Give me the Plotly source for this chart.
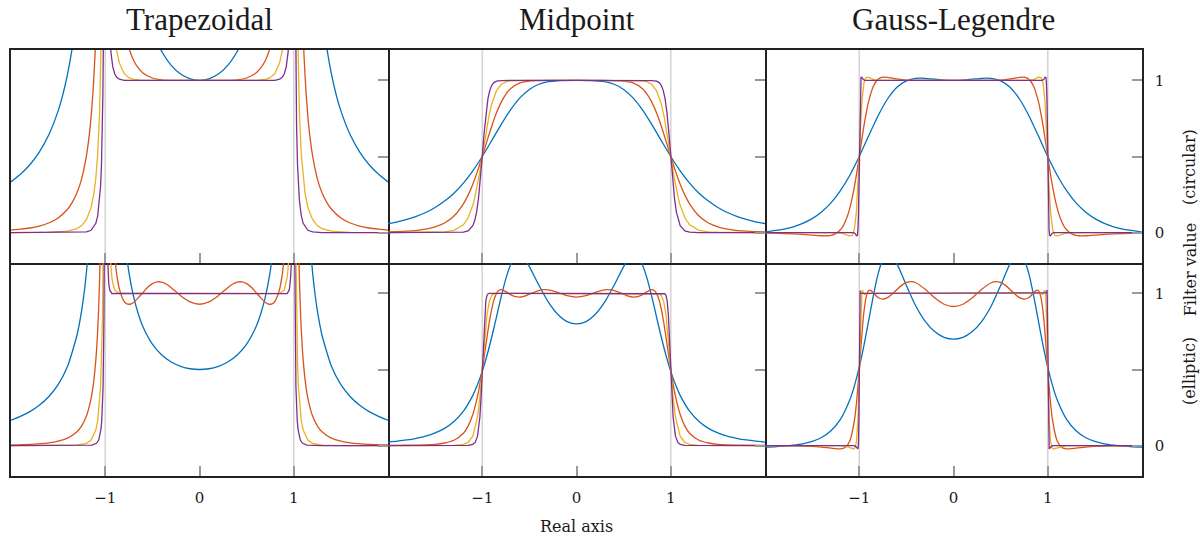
import plotly.graph_objects as go

# ---------------- styling constants ----------------
COLORS = ["#0072BD", "#D95319", "#EDB120", "#7E2F8E"]
TITLES = ["Trapezoidal", "Midpoint", "Gauss-Legendre"]
X_TICKS = [-1, 0, 1]
X_TICK_TEXT = ["\u22121", "0", "1"]
Y_TICKS = [0, 0.5, 1]
Y_TICK_TEXT = ["0", "", "1"]
GRID_X = [-1, 1]
X_RANGE = [-2, 2]
Y_RANGE = [-0.2, 1.2]
ROW_LABELS = ["(circular)", "Filter value", "(elliptic)"]
X_LABEL = "Real axis"

# ---------------- data: circular contour ----------------
# Trapezoidal (circular)
A_BLUE_X = [-2.0, -1.9, -1.8, -1.7, -1.6, -1.5, -1.45, -1.4, -1.35, -1.3, None, -0.5, -0.45, -0.4, -0.3, -0.2, -0.1, 0.0, 0.1, 0.2, 0.3, 0.4, 0.45, 0.5, None, 1.3, 1.35, 1.4, 1.45, 1.5, 1.6, 1.7, 1.8, 1.9, 2.0]
A_BLUE_Y = [0.333, 0.383, 0.446, 0.529, 0.641, 0.800, 0.907, 1.042, 1.216, 1.449, None, 1.333, 1.254, 1.190, 1.099, 1.042, 1.010, 1.000, 1.010, 1.042, 1.099, 1.190, 1.254, 1.333, None, 1.449, 1.216, 1.042, 0.907, 0.800, 0.641, 0.529, 0.446, 0.383, 0.333]
A_RED_X = [-2.0, -1.9, -1.8, -1.7, -1.6, -1.5, -1.4, -1.35, -1.3, -1.25, -1.2, -1.17, -1.15, -1.13, -1.11, -1.1, -1.09, None, -0.8, -0.75, -0.7, -0.65, -0.6, -0.5, -0.4, -0.3, 0.0, 0.3, 0.4, 0.5, 0.6, 0.65, 0.7, 0.75, 0.8, None, 1.09, 1.1, 1.11, 1.13, 1.15, 1.17, 1.2, 1.25, 1.3, 1.35, 1.4, 1.5, 1.6, 1.7, 1.8, 1.9, 2.0]
A_RED_Y = [0.016, 0.022, 0.030, 0.043, 0.063, 0.096, 0.153, 0.198, 0.261, 0.355, 0.504, 0.639, 0.762, 0.924, 1.149, 1.297, 1.477, None, 1.355, 1.216, 1.133, 1.082, 1.049, 1.016, 1.004, 1.001, 1.000, 1.001, 1.004, 1.016, 1.049, 1.082, 1.133, 1.216, 1.355, None, 1.477, 1.297, 1.149, 0.924, 0.762, 0.639, 0.504, 0.355, 0.261, 0.198, 0.153, 0.096, 0.063, 0.043, 0.030, 0.022, 0.016]
A_YELLOW_X = [-2.0, -1.6, -1.4, -1.3, -1.25, -1.2, -1.15, -1.12, -1.1, -1.08, -1.06, -1.05, -1.04, None, -0.92, -0.9, -0.88, -0.85, -0.8, -0.75, -0.7, -0.6, 0.0, 0.6, 0.7, 0.75, 0.8, 0.85, 0.88, 0.9, 0.92, None, 1.04, 1.05, 1.06, 1.08, 1.1, 1.12, 1.15, 1.2, 1.25, 1.3, 1.4, 1.6, 2.0]
A_YELLOW_Y = [0.0, 0.001, 0.009, 0.026, 0.046, 0.085, 0.165, 0.257, 0.358, 0.516, 0.793, 1.020, 1.366, None, 1.452, 1.297, 1.2, 1.115, 1.046, 1.018, 1.007, 1.001, 1.0, 1.001, 1.007, 1.018, 1.046, 1.115, 1.2, 1.297, 1.452, None, 1.366, 1.020, 0.793, 0.516, 0.358, 0.257, 0.165, 0.085, 0.046, 0.026, 0.009, 0.001, 0.0]
A_PURPLE_X = [-2.0, -1.3, -1.2, -1.15, -1.1, -1.08, -1.06, -1.05, -1.04, -1.03, -1.025, -1.02, -1.015, None, -0.96, -0.95, -0.94, -0.92, -0.9, -0.88, -0.85, -0.8, 0.0, 0.8, 0.85, 0.88, 0.9, 0.92, 0.94, 0.95, 0.96, None, 1.015, 1.02, 1.025, 1.03, 1.04, 1.05, 1.06, 1.08, 1.1, 1.15, 1.2, 1.3, 2.0]
A_PURPLE_Y = [0.0, 0.0, 0.004, 0.015, 0.061, 0.110, 0.211, 0.301, 0.446, 0.701, 0.911, 1.233, 1.776, None, 1.416, 1.273, 1.185, 1.089, 1.044, 1.022, 1.008, 1.001, 1.0, 1.001, 1.008, 1.022, 1.044, 1.089, 1.185, 1.273, 1.416, None, 1.776, 1.233, 0.911, 0.701, 0.446, 0.301, 0.211, 0.110, 0.061, 0.015, 0.004, 0.0, 0.0]

# Midpoint (circular)
B_BLUE_X = [-2.0, -1.9, -1.8, -1.7, -1.6, -1.5, -1.4, -1.3, -1.2, -1.1, -1.0, -0.9, -0.8, -0.7, -0.6, -0.5, -0.4, -0.3, -0.2, 0.0, 0.2, 0.3, 0.4, 0.5, 0.6, 0.7, 0.8, 0.9, 1.0, 1.1, 1.2, 1.3, 1.4, 1.5, 1.6, 1.7, 1.8, 1.9, 2.0]
B_BLUE_Y = [0.059, 0.071, 0.087, 0.107, 0.132, 0.165, 0.207, 0.259, 0.325, 0.406, 0.5, 0.604, 0.709, 0.806, 0.885, 0.941, 0.975, 0.992, 0.998, 1.0, 0.998, 0.992, 0.975, 0.941, 0.885, 0.806, 0.709, 0.604, 0.5, 0.406, 0.325, 0.259, 0.207, 0.165, 0.132, 0.107, 0.087, 0.071, 0.059]
B_RED_X = [-2.0, -1.8, -1.6, -1.5, -1.4, -1.3, -1.2, -1.15, -1.1, -1.05, -1.0, -0.95, -0.9, -0.85, -0.8, -0.75, -0.7, -0.6, -0.5, -0.3, 0.0, 0.3, 0.5, 0.6, 0.7, 0.75, 0.8, 0.85, 0.9, 0.95, 1.0, 1.05, 1.1, 1.15, 1.2, 1.3, 1.4, 1.5, 1.6, 1.8, 2.0]
B_RED_Y = [0.004, 0.009, 0.023, 0.038, 0.063, 0.109, 0.189, 0.246, 0.318, 0.404, 0.5, 0.601, 0.699, 0.786, 0.856, 0.909, 0.946, 0.984, 0.996, 1.0, 1.0, 1.0, 0.996, 0.984, 0.946, 0.909, 0.856, 0.786, 0.699, 0.601, 0.5, 0.404, 0.318, 0.246, 0.189, 0.109, 0.063, 0.038, 0.023, 0.009, 0.004]
B_YELLOW_X = [-2.0, -1.5, -1.4, -1.3, -1.2, -1.15, -1.1, -1.08, -1.05, -1.03, -1.0, -0.97, -0.95, -0.93, -0.9, -0.85, -0.8, -0.75, -0.7, -0.5, 0.0, 0.5, 0.7, 0.75, 0.8, 0.85, 0.9, 0.93, 0.95, 0.97, 1.0, 1.03, 1.05, 1.08, 1.1, 1.15, 1.2, 1.3, 1.4, 1.5, 2.0]
B_YELLOW_Y = [0.0, 0.002, 0.005, 0.015, 0.051, 0.097, 0.179, 0.226, 0.314, 0.384, 0.5, 0.620, 0.694, 0.762, 0.844, 0.931, 0.973, 0.990, 0.997, 1.0, 1.0, 1.0, 0.997, 0.990, 0.973, 0.931, 0.844, 0.762, 0.694, 0.620, 0.5, 0.384, 0.314, 0.226, 0.179, 0.097, 0.051, 0.015, 0.005, 0.002, 0.0]
B_PURPLE_X = [-2.0, -1.3, -1.2, -1.15, -1.1, -1.08, -1.06, -1.04, -1.02, -1.0, -0.98, -0.96, -0.94, -0.92, -0.9, -0.88, -0.85, -0.8, -0.7, 0.0, 0.7, 0.8, 0.85, 0.88, 0.9, 0.92, 0.94, 0.96, 0.98, 1.0, 1.02, 1.04, 1.06, 1.08, 1.1, 1.15, 1.2, 1.3, 2.0]
B_PURPLE_Y = [0.0, 0.0, 0.003, 0.011, 0.045, 0.079, 0.134, 0.222, 0.347, 0.5, 0.656, 0.787, 0.879, 0.935, 0.967, 0.984, 0.995, 0.999, 1.0, 1.0, 1.0, 0.999, 0.995, 0.984, 0.967, 0.935, 0.879, 0.787, 0.656, 0.5, 0.347, 0.222, 0.134, 0.079, 0.045, 0.011, 0.003, 0.0, 0.0]

# Gauss-Legendre (circular)
C_BLUE_X = [-2.0, -1.8, -1.7, -1.6, -1.5, -1.4, -1.3, -1.2, -1.1, -1.0, -0.9, -0.8, -0.7, -0.6, -0.5, -0.4, -0.35, -0.3, -0.2, -0.1, 0.0, 0.1, 0.2, 0.3, 0.35, 0.4, 0.5, 0.6, 0.7, 0.8, 0.9, 1.0, 1.1, 1.2, 1.3, 1.4, 1.5, 1.6, 1.7, 1.8, 2.0]
C_BLUE_Y = [0.003, 0.022, 0.038, 0.061, 0.092, 0.136, 0.195, 0.275, 0.377, 0.5, 0.636, 0.768, 0.878, 0.955, 0.997, 1.014, 1.015, 1.014, 1.008, 1.002, 1.0, 1.002, 1.008, 1.014, 1.015, 1.014, 0.997, 0.955, 0.878, 0.768, 0.636, 0.5, 0.377, 0.275, 0.195, 0.136, 0.092, 0.061, 0.038, 0.022, 0.003]
C_RED_X = [-2.0, -1.8, -1.6, -1.5, -1.4, -1.333, -1.3, -1.25, -1.2, -1.176, -1.15, -1.111, -1.087, -1.053, -1.031, -1.0, -0.97, -0.95, -0.92, -0.9, -0.85, -0.8, -0.75, -0.7, -0.65, -0.6, -0.55, -0.5, -0.4, 0.0, 0.4, 0.5, 0.55, 0.6, 0.65, 0.7, 0.75, 0.8, 0.85, 0.9, 0.92, 0.95, 0.97, 1.0, 1.031, 1.053, 1.087, 1.111, 1.15, 1.176, 1.2, 1.25, 1.3, 1.333, 1.4, 1.5, 1.6, 1.8, 2.0]
C_RED_Y = [-0.002, -0.006, -0.012, -0.017, -0.021, -0.021, -0.018, -0.007, 0.019, 0.038, 0.069, 0.136, 0.193, 0.297, 0.376, 0.5, 0.624, 0.703, 0.807, 0.864, 0.962, 1.007, 1.021, 1.020, 1.015, 1.010, 1.005, 1.002, 1.0, 1.0, 1.0, 1.002, 1.005, 1.010, 1.015, 1.020, 1.021, 1.007, 0.962, 0.864, 0.807, 0.703, 0.624, 0.5, 0.376, 0.297, 0.193, 0.136, 0.069, 0.038, 0.019, -0.007, -0.018, -0.021, -0.021, -0.017, -0.012, -0.006, -0.002]
C_YELLOW_X = [-2.0, -1.25, -1.176, -1.111, -1.075, -1.053, -1.031, -1.015, -1.0, -0.985, -0.97, -0.95, -0.93, -0.9, -0.85, -0.8, -0.7, 0.0, 0.7, 0.8, 0.85, 0.9, 0.93, 0.95, 0.97, 0.985, 1.0, 1.015, 1.031, 1.053, 1.075, 1.111, 1.176, 1.25, 2.0]
C_YELLOW_Y = [0.0, 0.0, -0.006, -0.021, -0.019, 0.017, 0.129, 0.289, 0.5, 0.711, 0.871, 0.983, 1.019, 1.021, 1.006, 1.0, 1.0, 1.0, 1.0, 1.0, 1.006, 1.021, 1.019, 0.983, 0.871, 0.711, 0.5, 0.289, 0.129, 0.017, -0.019, -0.021, -0.006, 0.0, 0.0]
C_PURPLE_X = [-2.0, -1.062, -1.045, -1.029, -1.02, -1.014, -1.008, -1.004, -1.0, -0.996, -0.992, -0.986, -0.981, -0.972, -0.957, -0.94, 0.0, 0.94, 0.957, 0.972, 0.981, 0.986, 0.992, 0.996, 1.0, 1.004, 1.008, 1.014, 1.02, 1.029, 1.045, 1.062, 2.0]
C_PURPLE_Y = [0.0, 0.0, -0.006, -0.021, -0.019, 0.017, 0.129, 0.289, 0.5, 0.711, 0.871, 0.983, 1.019, 1.021, 1.006, 1.0, 1.0, 1.0, 1.006, 1.021, 1.019, 0.983, 0.871, 0.711, 0.5, 0.289, 0.129, 0.017, -0.019, -0.021, -0.006, 0.0, 0.0]

# ---------------- data: elliptic contour ----------------
# Trapezoidal (elliptic)
D_BLUE_X = [-2.0, -1.9, -1.8, -1.7, -1.6, -1.5, -1.4, -1.3, -1.25, -1.22, -1.2, -1.17, -1.15, None, -0.8, -0.75, -0.7, -0.65, -0.6, -0.5, -0.4, -0.3, -0.2, -0.1, 0.0, 0.1, 0.2, 0.3, 0.4, 0.5, 0.6, 0.65, 0.7, 0.75, 0.8, None, 1.15, 1.17, 1.2, 1.22, 1.25, 1.3, 1.4, 1.5, 1.6, 1.7, 1.8, 1.9, 2.0]
D_BLUE_Y = [0.167, 0.192, 0.223, 0.265, 0.321, 0.400, 0.521, 0.725, 0.889, 1.024, 1.136, 1.355, 1.550, None, 1.389, 1.143, 0.980, 0.866, 0.781, 0.667, 0.595, 0.549, 0.521, 0.505, 0.5, 0.505, 0.521, 0.549, 0.595, 0.667, 0.781, 0.866, 0.980, 1.143, 1.389, None, 1.550, 1.355, 1.136, 1.024, 0.889, 0.725, 0.521, 0.400, 0.321, 0.265, 0.223, 0.192, 0.167]
D_RED_X = [-2.0, -1.8, -1.6, -1.5, -1.4, -1.3, -1.25, -1.2, -1.15, -1.125, -1.1, -1.08, -1.07, -1.06, -1.05, None, -0.92, -0.9, -0.88, -0.85, -0.8, -0.775, -0.75, -0.725, -0.7, -0.65, -0.6, -0.55, -0.5, -0.45, -0.4, -0.35, -0.3, -0.2, -0.1, 0.0, 0.1, 0.2, 0.3, 0.35, 0.4, 0.45, 0.5, 0.55, 0.6, 0.65, 0.7, 0.725, 0.75, 0.775, 0.8, 0.85, 0.88, 0.9, 0.92, None, 1.05, 1.06, 1.07, 1.08, 1.1, 1.125, 1.15, 1.2, 1.25, 1.3, 1.4, 1.5, 1.6, 1.8, 2.0]
D_RED_Y = [0.004, 0.008, 0.018, 0.029, 0.049, 0.091, 0.130, 0.194, 0.311, 0.409, 0.563, 0.760, 0.903, 1.095, 1.366, None, 1.443, 1.254, 1.135, 1.028, 0.948, 0.933, 0.929, 0.932, 0.941, 0.971, 1.006, 1.040, 1.064, 1.076, 1.074, 1.060, 1.038, 0.985, 0.944, 0.929, 0.944, 0.985, 1.038, 1.060, 1.074, 1.076, 1.064, 1.040, 1.006, 0.971, 0.941, 0.932, 0.929, 0.933, 0.948, 1.028, 1.135, 1.254, 1.443, None, 1.366, 1.095, 0.903, 0.760, 0.563, 0.409, 0.311, 0.194, 0.130, 0.091, 0.049, 0.029, 0.018, 0.008, 0.004]
D_YELLOW_X = [-2.0, -1.5, -1.3, -1.2, -1.15, -1.1, -1.08, -1.05, -1.04, -1.03, -1.02, None, -0.95, -0.94, -0.93, -0.92, -0.9, -0.85, -0.8, -0.5, 0.0, 0.5, 0.8, 0.85, 0.9, 0.92, 0.93, 0.94, 0.95, None, 1.02, 1.03, 1.04, 1.05, 1.08, 1.1, 1.15, 1.2, 1.3, 1.5, 2.0]
D_YELLOW_Y = [0.0, 0.0, 0.003, 0.015, 0.036, 0.102, 0.164, 0.385, 0.545, 0.824, 1.400, None, 1.262, 1.167, 1.106, 1.067, 1.023, 0.999, 1.001, 1.001, 0.999, 1.001, 1.001, 0.999, 1.023, 1.067, 1.106, 1.167, 1.262, None, 1.400, 0.824, 0.545, 0.385, 0.164, 0.102, 0.036, 0.015, 0.003, 0.0, 0.0]
D_PURPLE_X = [-2.0, -1.3, -1.14, -1.093, -1.07, -1.047, -1.037, -1.023, -1.019, -1.014, -1.009, None, -0.977, -0.972, -0.967, -0.963, -0.953, -0.93, -0.9, 0.0, 0.9, 0.93, 0.953, 0.963, 0.967, 0.972, 0.977, None, 1.009, 1.014, 1.019, 1.023, 1.037, 1.047, 1.07, 1.093, 1.14, 1.3, 2.0]
D_PURPLE_Y = [0.0, 0.0, 0.003, 0.015, 0.036, 0.102, 0.164, 0.385, 0.545, 0.824, 1.400, None, 1.262, 1.167, 1.106, 1.067, 1.023, 0.999, 1.0, 1.0, 1.0, 0.999, 1.023, 1.067, 1.106, 1.167, 1.262, None, 1.400, 0.824, 0.545, 0.385, 0.164, 0.102, 0.036, 0.015, 0.003, 0.0, 0.0]

# Midpoint (elliptic)
E_BLUE_X = [-2.0, -1.9, -1.8, -1.7, -1.6, -1.5, -1.4, -1.3, -1.2, -1.1, -1.05, -1.0, -0.95, -0.9, -0.85, -0.8, -0.75, -0.7, -0.65, -0.6, -0.55, -0.5, -0.4, -0.3, -0.2, -0.1, 0.0, 0.1, 0.2, 0.3, 0.4, 0.5, 0.55, 0.6, 0.65, 0.7, 0.75, 0.8, 0.85, 0.9, 0.95, 1.0, 1.05, 1.1, 1.2, 1.3, 1.4, 1.5, 1.6, 1.7, 1.8, 1.9, 2.0]
E_BLUE_Y = [0.023, 0.029, 0.037, 0.048, 0.062, 0.083, 0.113, 0.158, 0.226, 0.330, 0.401, 0.488, 0.592, 0.712, 0.843, 0.976, 1.096, 1.187, 1.239, 1.249, 1.224, 1.176, 1.055, 0.944, 0.863, 0.815, 0.8, 0.815, 0.863, 0.944, 1.055, 1.176, 1.224, 1.249, 1.239, 1.187, 1.096, 0.976, 0.843, 0.712, 0.592, 0.488, 0.401, 0.330, 0.226, 0.158, 0.113, 0.083, 0.062, 0.048, 0.037, 0.029, 0.023]
E_RED_X = [-2.0, -1.8, -1.6, -1.5, -1.4, -1.3, -1.2, -1.15, -1.1, -1.05, -1.025, -1.0, -0.975, -0.95, -0.925, -0.9, -0.875, -0.85, -0.825, -0.8, -0.75, -0.7, -0.65, -0.6, -0.55, -0.5, -0.4, -0.35, -0.3, -0.2, -0.1, 0.0, 0.1, 0.2, 0.3, 0.35, 0.4, 0.5, 0.55, 0.6, 0.65, 0.7, 0.75, 0.8, 0.825, 0.85, 0.875, 0.9, 0.925, 0.95, 0.975, 1.0, 1.025, 1.05, 1.1, 1.15, 1.2, 1.3, 1.4, 1.5, 1.6, 1.8, 2.0]
E_RED_Y = [0.001, 0.002, 0.005, 0.008, 0.017, 0.035, 0.081, 0.128, 0.204, 0.325, 0.406, 0.5, 0.604, 0.710, 0.811, 0.895, 0.959, 0.999, 1.019, 1.025, 1.012, 0.992, 0.979, 0.976, 0.982, 0.995, 1.019, 1.025, 1.024, 1.007, 0.985, 0.976, 0.985, 1.007, 1.024, 1.025, 1.019, 0.995, 0.982, 0.976, 0.979, 0.992, 1.012, 1.025, 1.019, 0.999, 0.959, 0.895, 0.811, 0.710, 0.604, 0.5, 0.406, 0.325, 0.204, 0.128, 0.081, 0.035, 0.017, 0.008, 0.005, 0.002, 0.001]
E_YELLOW_X = [-2.0, -1.3, -1.2, -1.15, -1.1, -1.05, -1.025, -1.0, -0.975, -0.95, -0.925, -0.9, -0.875, -0.85, -0.5, 0.0, 0.5, 0.85, 0.875, 0.9, 0.925, 0.95, 0.975, 1.0, 1.025, 1.05, 1.1, 1.15, 1.2, 1.3, 2.0]
E_YELLOW_Y = [0.0, 0.001, 0.008, 0.021, 0.062, 0.188, 0.318, 0.5, 0.699, 0.858, 0.948, 0.987, 0.998, 1.0, 1.0, 1.0, 1.0, 1.0, 0.998, 0.987, 0.948, 0.858, 0.699, 0.5, 0.318, 0.188, 0.062, 0.021, 0.008, 0.001, 0.0]
E_PURPLE_X = [-2.0, -1.15, -1.1, -1.075, -1.05, -1.025, -1.0125, -1.0, -0.9875, -0.975, -0.9625, -0.95, -0.9375, -0.925, 0.0, 0.925, 0.9375, 0.95, 0.9625, 0.975, 0.9875, 1.0, 1.0125, 1.025, 1.05, 1.075, 1.1, 1.15, 2.0]
E_PURPLE_Y = [0.0, 0.001, 0.008, 0.021, 0.062, 0.188, 0.318, 0.5, 0.700, 0.858, 0.948, 0.987, 0.998, 1.0, 1.0, 1.0, 0.998, 0.987, 0.948, 0.858, 0.700, 0.5, 0.318, 0.188, 0.062, 0.021, 0.008, 0.001, 0.0]

# Gauss-Legendre (elliptic)
F_BLUE_X = [-2.0, -1.9, -1.8, -1.7, -1.6, -1.5, -1.4, -1.3, -1.2, -1.1, -1.05, -1.0, -0.95, -0.9, -0.85, -0.8, -0.75, -0.7, -0.65, -0.6, -0.55, -0.5, -0.4, -0.3, -0.2, -0.1, 0.0, 0.1, 0.2, 0.3, 0.4, 0.5, 0.55, 0.6, 0.65, 0.7, 0.75, 0.8, 0.85, 0.9, 0.95, 1.0, 1.05, 1.1, 1.2, 1.3, 1.4, 1.5, 1.6, 1.7, 1.8, 1.9, 2.0]
F_BLUE_Y = [-0.010, -0.008, -0.004, 0.002, 0.011, 0.027, 0.053, 0.097, 0.172, 0.301, 0.396, 0.515, 0.659, 0.822, 0.986, 1.128, 1.224, 1.261, 1.247, 1.196, 1.126, 1.052, 0.917, 0.816, 0.749, 0.711, 0.699, 0.711, 0.749, 0.816, 0.917, 1.052, 1.126, 1.196, 1.247, 1.261, 1.224, 1.128, 0.986, 0.822, 0.659, 0.515, 0.396, 0.301, 0.172, 0.097, 0.053, 0.027, 0.011, 0.002, -0.004, -0.008, -0.010]
F_RED_X = [-2.0, -1.8, -1.6, -1.5, -1.4, -1.3, -1.2, -1.15, -1.1, -1.05, -1.025, -1.0, -0.975, -0.95, -0.925, -0.9, -0.875, -0.85, -0.8, -0.75, -0.7, -0.65, -0.6, -0.55, -0.5, -0.45, -0.4, -0.3, -0.2, -0.1, 0.0, 0.1, 0.2, 0.3, 0.4, 0.45, 0.5, 0.55, 0.6, 0.65, 0.7, 0.75, 0.8, 0.85, 0.875, 0.9, 0.925, 0.95, 0.975, 1.0, 1.025, 1.05, 1.1, 1.15, 1.2, 1.3, 1.4, 1.5, 1.6, 1.8, 2.0]
F_RED_Y = [0.0, 0.0, -0.003, -0.005, -0.010, -0.017, -0.022, -0.013, 0.030, 0.170, 0.309, 0.5, 0.708, 0.880, 0.981, 1.019, 1.019, 1.004, 0.973, 0.962, 0.972, 0.996, 1.026, 1.053, 1.072, 1.078, 1.070, 1.027, 0.971, 0.929, 0.914, 0.929, 0.971, 1.027, 1.070, 1.078, 1.072, 1.053, 1.026, 0.996, 0.972, 0.962, 0.973, 1.004, 1.019, 1.019, 0.981, 0.880, 0.708, 0.5, 0.309, 0.170, 0.030, -0.013, -0.022, -0.017, -0.010, -0.005, -0.003, 0.0, 0.0]
F_YELLOW_X = [-2.0, -1.2, -1.143, -1.114, -1.086, -1.057, -1.043, -1.029, -1.014, -1.007, -1.0, -0.993, -0.986, -0.979, -0.971, -0.964, -0.957, -0.943, -0.9, 0.0, 0.9, 0.943, 0.957, 0.964, 0.971, 0.979, 0.986, 0.993, 1.0, 1.007, 1.014, 1.029, 1.043, 1.057, 1.086, 1.114, 1.143, 1.2, 2.0]
F_YELLOW_Y = [0.0, 0.0, -0.005, -0.010, -0.017, -0.022, -0.013, 0.030, 0.170, 0.309, 0.5, 0.708, 0.880, 0.981, 1.019, 1.019, 1.004, 0.993, 1.0, 1.0, 1.0, 0.993, 1.004, 1.019, 1.019, 0.981, 0.880, 0.708, 0.5, 0.309, 0.170, 0.030, -0.013, -0.022, -0.017, -0.010, -0.005, 0.0, 0.0]
F_PURPLE_X = [-2.0, -1.055, -1.038, -1.031, -1.023, -1.0153, -1.0115, -1.0076, -1.0038, -1.0019, -1.0, -0.9981, -0.9962, -0.9943, -0.9924, -0.9905, -0.9885, -0.98, 0.0, 0.98, 0.9885, 0.9905, 0.9924, 0.9943, 0.9962, 0.9981, 1.0, 1.0019, 1.0038, 1.0076, 1.0115, 1.0153, 1.023, 1.031, 1.038, 1.055, 2.0]
F_PURPLE_Y = [0.0, 0.0, -0.005, -0.010, -0.017, -0.022, -0.013, 0.030, 0.170, 0.309, 0.5, 0.708, 0.880, 0.981, 1.019, 1.019, 1.004, 1.0, 1.0, 1.0, 1.004, 1.019, 1.019, 0.981, 0.880, 0.708, 0.5, 0.309, 0.170, 0.030, -0.013, -0.022, -0.017, -0.010, -0.005, 0.0, 0.0]

PANELS = [
    [(A_BLUE_X, A_BLUE_Y), (A_RED_X, A_RED_Y), (A_YELLOW_X, A_YELLOW_Y), (A_PURPLE_X, A_PURPLE_Y)],
    [(B_BLUE_X, B_BLUE_Y), (B_RED_X, B_RED_Y), (B_YELLOW_X, B_YELLOW_Y), (B_PURPLE_X, B_PURPLE_Y)],
    [(C_BLUE_X, C_BLUE_Y), (C_RED_X, C_RED_Y), (C_YELLOW_X, C_YELLOW_Y), (C_PURPLE_X, C_PURPLE_Y)],
    [(D_BLUE_X, D_BLUE_Y), (D_RED_X, D_RED_Y), (D_YELLOW_X, D_YELLOW_Y), (D_PURPLE_X, D_PURPLE_Y)],
    [(E_BLUE_X, E_BLUE_Y), (E_RED_X, E_RED_Y), (E_YELLOW_X, E_YELLOW_Y), (E_PURPLE_X, E_PURPLE_Y)],
    [(F_BLUE_X, F_BLUE_Y), (F_RED_X, F_RED_Y), (F_YELLOW_X, F_YELLOW_Y), (F_PURPLE_X, F_PURPLE_Y)],
]

SMALL_FONT = "DejaVu Serif"
TITLE_FONT = "Liberation Serif"
TEXT_COLOR = "#1a1a1a"

fig = go.Figure()
for i, panel in enumerate(PANELS):
    sfx = "" if i == 0 else str(i + 1)
    for j, (xs, ys) in enumerate(panel):
        assert len(xs) == len(ys), (i, j, len(xs), len(ys))
        fig.add_trace(go.Scatter(
            x=xs, y=ys, mode="lines", xaxis="x" + sfx, yaxis="y" + sfx,
            line=dict(color=COLORS[j], width=1.3,
                      shape="spline" if j < 2 else "linear", smoothing=0.6),
            connectgaps=False, showlegend=False, hoverinfo="skip"))

layout = dict(
    width=1204, height=537,
    margin=dict(l=9, r=62, t=50, b=61, pad=0),
    paper_bgcolor="white", plot_bgcolor="white",
    showlegend=False,
    font=dict(family=SMALL_FONT, size=15, color=TEXT_COLOR),
)
shapes = []
for i in range(6):
    r, c = divmod(i, 3)
    sfx = "" if i == 0 else str(i + 1)
    layout["xaxis" + sfx] = dict(
        domain=[c / 3, (c + 1) / 3], anchor="y" + sfx, range=X_RANGE,
        showgrid=False, zeroline=False, showline=True, mirror=(r == 0),
        linecolor="#222222", linewidth=1.5,
        tickmode="array", tickvals=X_TICKS, ticktext=X_TICK_TEXT,
        ticks="inside", ticklen=10, tickwidth=1.5, tickcolor="#9a9a9a",
        showticklabels=(r == 1), ticklabelstandoff=7,
        tickfont=dict(family=SMALL_FONT, size=15, color=TEXT_COLOR),
    )
    layout["yaxis" + sfx] = dict(
        domain=[0.5, 1.0] if r == 0 else [0.0, 0.5], anchor="x" + sfx,
        range=Y_RANGE, side="right",
        showgrid=False, zeroline=False, showline=True, mirror=(c == 0),
        linecolor="#222222", linewidth=1.5,
        tickmode="array", tickvals=Y_TICKS, ticktext=Y_TICK_TEXT,
        ticks="inside", ticklen=10, tickwidth=1.5, tickcolor="#9a9a9a",
        showticklabels=(c == 2), ticklabelstandoff=8,
        tickfont=dict(family=SMALL_FONT, size=15, color=TEXT_COLOR),
    )
    for gx in GRID_X:
        shapes.append(dict(type="line", xref="x" + sfx, yref="y" + sfx + " domain",
                           x0=gx, x1=gx, y0=0, y1=1, layer="below",
                           line=dict(color="#d6d6d6", width=1.6)))
layout["shapes"] = shapes

annotations = []
for c, t in enumerate(TITLES):
    annotations.append(dict(text=t, xref="paper", yref="paper", x=(c + 0.5) / 3, y=1.072,
                            xanchor="center", yanchor="middle", showarrow=False,
                            font=dict(family=TITLE_FONT, size=31, color=TEXT_COLOR)))
annotations.append(dict(text=X_LABEL, xref="paper", yref="paper", x=0.5, y=-0.118,
                        xanchor="center", yanchor="middle", showarrow=False,
                        font=dict(family=SMALL_FONT, size=16, color=TEXT_COLOR)))
for txt, yy in zip(ROW_LABELS, [0.7254, 0.4852, 0.2465]):
    annotations.append(dict(text=txt, xref="paper", yref="paper", x=1.0424, y=yy,
                            xanchor="center", yanchor="middle", textangle=-90, showarrow=False,
                            font=dict(family=SMALL_FONT, size=16, color=TEXT_COLOR)))
layout["annotations"] = annotations

fig.update_layout(**layout)
fig.write_html("out.html")
